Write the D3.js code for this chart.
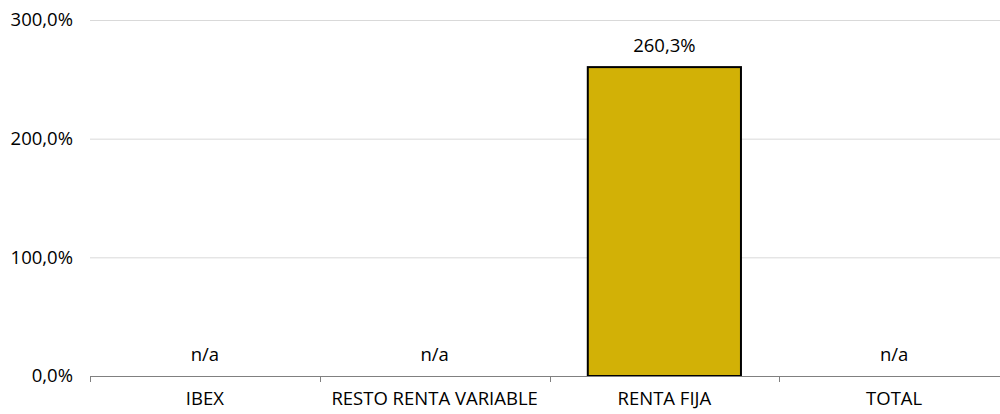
<!DOCTYPE html>
<html>
<head>
<meta charset="utf-8">
<script src="https://cdnjs.cloudflare.com/ajax/libs/d3/7.8.5/d3.min.js"></script>
<style>
	body { margin: 0; background: #fff; }
	svg text { font-family: "Open Sans", sans-serif; font-size: 18.5px; fill: #000; }
</style>
</head>
<body>
<svg id="chart" width="1000" height="414"></svg>
<script>
var categories = ["IBEX", "RESTO RENTA VARIABLE", "RENTA FIJA", "TOTAL"];
var values = [null, null, 260.3, null];
var yTicks = [0, 100, 200, 300];

var fmt = function(v) {
	return d3.format(".1f")(v).replace(".", ",") + "%";
};

var svg = d3.select("#chart");

var x = d3.scaleBand()
	.domain(categories)
	.range([90, 1009])
	.paddingInner(1 / 3)
	.paddingOuter(1 / 6);

var y = d3.scaleLinear()
	.domain([0, 300])
	.range([376, 20]);

/* gridlines */
svg.append("g")
	.selectAll("line")
	.data(yTicks.slice(1))
	.enter()
	.append("line")
	.attr("x1", 90)
	.attr("x2", 1009)
	.attr("y1", function(d) { return y(d) + 0.5; })
	.attr("y2", function(d) { return y(d) + 0.5; })
	.attr("stroke", "#d9d9d9")
	.attr("stroke-width", 1);

/* y labels */
svg.append("g")
	.selectAll("text")
	.data(yTicks)
	.enter()
	.append("text")
	.attr("x", 73)
	.attr("y", function(d) { return y(d); })
	.attr("dy", "0.35em")
	.attr("text-anchor", "end")
	.text(fmt);

/* bars */
svg.append("g")
	.selectAll("rect")
	.data(categories.filter(function(c, i) { return values[i] !== null; }))
	.enter()
	.append("rect")
	.attr("x", function(d) { return x(d); })
	.attr("width", x.bandwidth())
	.attr("y", function(d) { return y(values[categories.indexOf(d)]); })
	.attr("height", function(d) { return y(0) - y(values[categories.indexOf(d)]); })
	.attr("fill", "#d2b106")
	.attr("stroke", "#000")
	.attr("stroke-width", 2);

/* x axis */
var step = x.step();
var start = x.range()[0];
svg.append("line")
	.attr("x1", start)
	.attr("x2", 1009)
	.attr("y1", y(0) + 0.5)
	.attr("y2", y(0) + 0.5)
	.attr("stroke", "#808080")
	.attr("stroke-width", 1);

svg.append("g")
	.selectAll("line")
	.data(d3.range(categories.length + 1))
	.enter()
	.append("line")
	.attr("x1", function(i) { return Math.round(start + i * step) + 0.5; })
	.attr("x2", function(i) { return Math.round(start + i * step) + 0.5; })
	.attr("y1", y(0))
	.attr("y2", y(0) + 6)
	.attr("stroke", "#808080");

svg.append("g")
	.selectAll("text")
	.data(categories)
	.enter()
	.append("text")
	.attr("x", function(d) { return x(d) + x.bandwidth() / 2; })
	.attr("y", 405)
	.attr("text-anchor", "middle")
	.text(function(d) { return d; });

/* value labels */
svg.append("g")
	.selectAll("text")
	.data(categories)
	.enter()
	.append("text")
	.attr("x", function(d) { return x(d) + x.bandwidth() / 2; })
	.attr("y", function(d, i) {
		return values[i] === null ? y(0) - 15 : y(values[i]) - 15;
	})
	.attr("text-anchor", "middle")
	.text(function(d, i) { return values[i] === null ? "n/a" : fmt(values[i]); });
</script>
</body>
</html>
